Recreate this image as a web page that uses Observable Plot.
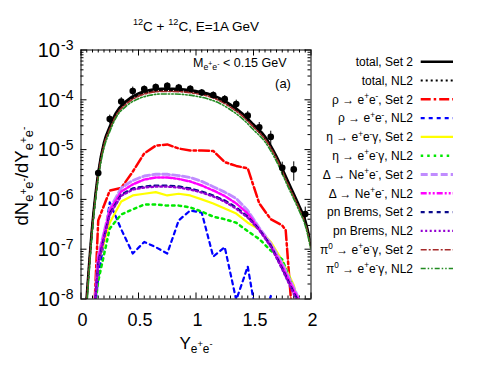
<!DOCTYPE html>
<html><head><meta charset="utf-8">
<script src="https://cdn.jsdelivr.net/npm/d3@7"></script>
<script src="https://cdn.jsdelivr.net/npm/@observablehq/plot@0.6"></script>
<style>body{margin:0;background:#fff}</style>
</head><body><div id="chart"></div>
<script>
// ---- data ----
const dataY   = [0.15,0.25,0.35,0.45,0.55,0.65,0.75,0.85,0.95,1.05,1.15,1.25,1.35,1.45,1.55,1.65,1.75,1.85,1.95];
const dataV   = [3.4e-6,4.1e-5,9.2e-5,1.5e-4,1.65e-4,1.8e-4,1.9e-4,1.77e-4,1.66e-4,1.4e-4,1.25e-4,1.03e-4,8.2e-5,4.8e-5,2.8e-5,1.8e-5,4.3e-6,4.0e-6,5.1e-7];
const dataErr = [0.15,0.2,0.2,0.2,0.15,0.15,0.15,0.15,0.15,0.15,0.15,0.18,0.2,0.22,0.25,0.3,0.3,0.42,0.37]; // relative

const totalSet2 = [[0.048,1e-8],[0.1,3.4e-7],[0.15,3.5e-6],[0.2,1.4e-5],[0.25,2.9e-5],[0.3,5.3e-5],[0.4,9.7e-5],[0.5,1.34e-4],[0.6,1.57e-4],[0.7,1.66e-4],[0.8,1.66e-4],[0.9,1.61e-4],[1.0,1.5e-4],[1.1,1.34e-4],[1.2,1.09e-4],[1.3,8.0e-5],[1.4,5.4e-5],[1.5,3.2e-5],[1.6,1.83e-5],[1.7,7.3e-6],[1.8,2.3e-6],[1.9,7.2e-7],[1.95,3.8e-7],[2.0,1.2e-7]];
const totalNL2  = [[0.05,1e-8],[0.1,3.0e-7],[0.15,3.1e-6],[0.2,1.28e-5],[0.25,2.65e-5],[0.3,4.8e-5],[0.4,8.9e-5],[0.5,1.23e-4],[0.6,1.44e-4],[0.7,1.53e-4],[0.8,1.53e-4],[0.9,1.49e-4],[1.0,1.39e-4],[1.1,1.24e-4],[1.2,1.01e-4],[1.3,7.4e-5],[1.4,5.0e-5],[1.5,2.95e-5],[1.6,1.68e-5],[1.7,6.9e-6],[1.8,2.1e-6],[1.9,6.6e-7],[1.95,3.5e-7],[2.0,1.1e-7]];
const rhoSet2   = [[0.12,1e-8],[0.15,3.8e-7],[0.25,1.5e-6],[0.35,1.7e-6],[0.45,3.6e-6],[0.55,8.4e-6],[0.65,1.2e-5],[0.75,1.27e-5],[0.85,1.05e-5],[0.95,9.6e-6],[1.05,9.6e-6],[1.15,9.4e-6],[1.25,5.6e-6],[1.35,4.7e-6],[1.45,4.2e-6],[1.55,8.3e-7],[1.65,4.0e-7],[1.75,3.0e-7],[1.78,2.4e-7],[1.825,1e-8]];
const rhoNL2    = [[0.13,1e-8],[0.15,2.6e-8],[0.25,8.7e-7],[0.35,2.5e-7],[0.45,8.2e-8],[0.55,1.4e-7],[0.65,1.1e-7],[0.75,8.2e-8],[0.85,3.8e-7],[0.95,6.0e-7],[1.05,5.4e-7],[1.15,7.1e-8],[1.25,1.1e-7],[1.35,9.5e-9],[1.45,4.5e-8],[1.55,2e-9],[1.65,1.15e-8],[1.75,1e-9]];
const etaSet2   = [[0.125,1e-8],[0.15,5.4e-8],[0.25,3.4e-7],[0.35,9.1e-7],[0.45,1.2e-6],[0.55,1.3e-6],[0.65,1.4e-6],[0.75,1.2e-6],[0.85,1.3e-6],[0.95,1.2e-6],[1.05,1.0e-6],[1.15,8.3e-7],[1.25,6.6e-7],[1.35,5.2e-7],[1.45,3.4e-7],[1.55,2.5e-7],[1.65,1.4e-7],[1.75,5.9e-8],[1.85,1.9e-8],[1.88,1e-8]];
const etaNL2    = [[0.13,1e-8],[0.15,2.3e-8],[0.25,2.6e-7],[0.35,5.0e-7],[0.45,6.3e-7],[0.55,7.9e-7],[0.65,7.9e-7],[0.75,7.5e-7],[0.85,7.5e-7],[0.95,6.9e-7],[1.05,5.7e-7],[1.15,4.5e-7],[1.25,4.0e-7],[1.35,3.4e-7],[1.45,2.3e-7],[1.55,1.6e-7],[1.65,9.4e-8],[1.75,6.2e-8],[1.85,1.6e-8],[1.87,1e-8]];
const deltaSet2 = [[0.125,1e-8],[0.15,7.5e-8],[0.25,6.5e-7],[0.35,1.7e-6],[0.45,2.4e-6],[0.55,2.95e-6],[0.65,3.2e-6],[0.75,3.2e-6],[0.85,3.0e-6],[0.95,2.75e-6],[1.05,2.3e-6],[1.15,1.8e-6],[1.25,1.4e-6],[1.35,1.04e-6],[1.45,6.0e-7],[1.55,2.7e-7],[1.65,1.3e-7],[1.75,5.2e-8],[1.85,1.7e-8],[1.895,1e-8]];
const deltaNL2  = [[0.125,1e-8],[0.15,6.5e-8],[0.25,6.0e-7],[0.35,1.44e-6],[0.45,2.0e-6],[0.55,2.5e-6],[0.65,2.75e-6],[0.75,2.75e-6],[0.85,2.57e-6],[0.95,2.29e-6],[1.05,1.9e-6],[1.15,1.51e-6],[1.25,1.17e-6],[1.35,8.3e-7],[1.45,5.2e-7],[1.55,2.5e-7],[1.65,1.19e-7],[1.75,4.5e-8],[1.85,1.5e-8],[1.89,1e-8]];
const pnSet2    = [[0.125,1e-8],[0.15,5.4e-8],[0.25,5.2e-7],[0.35,1.25e-6],[0.45,1.66e-6],[0.55,1.82e-6],[0.65,1.9e-6],[0.75,1.9e-6],[0.85,1.82e-6],[0.95,1.66e-6],[1.05,1.44e-6],[1.15,1.2e-6],[1.25,9.5e-7],[1.35,6.9e-7],[1.45,4.5e-7],[1.55,2.5e-7],[1.65,1.19e-7],[1.75,4.1e-8],[1.85,1.35e-8],[1.88,1e-8]];
const pnNL2     = [[0.125,1e-8],[0.15,5.1e-8],[0.25,4.9e-7],[0.35,1.18e-6],[0.45,1.57e-6],[0.55,1.73e-6],[0.65,1.8e-6],[0.75,1.8e-6],[0.85,1.73e-6],[0.95,1.57e-6],[1.05,1.37e-6],[1.15,1.14e-6],[1.25,9.0e-7],[1.35,6.5e-7],[1.45,4.3e-7],[1.55,2.4e-7],[1.65,1.12e-7],[1.75,3.9e-8],[1.85,1.25e-8],[1.87,1e-8]];
const pi0Set2   = [[0.05,1e-8],[0.1,2.9e-7],[0.15,3.0e-6],[0.2,1.24e-5],[0.25,2.55e-5],[0.3,4.6e-5],[0.4,8.5e-5],[0.5,1.18e-4],[0.6,1.39e-4],[0.7,1.47e-4],[0.8,1.47e-4],[0.9,1.43e-4],[1.0,1.33e-4],[1.1,1.19e-4],[1.2,9.7e-5],[1.3,7.1e-5],[1.4,4.8e-5],[1.5,2.85e-5],[1.6,1.63e-5],[1.7,6.6e-6],[1.8,2.0e-6],[1.9,6.3e-7],[1.95,3.3e-7],[2.0,1.05e-7]];
const pi0NL2    = [[0.055,1e-8],[0.1,2.5e-7],[0.15,2.6e-6],[0.2,1.08e-5],[0.25,2.3e-5],[0.3,4.2e-5],[0.4,7.7e-5],[0.5,1.05e-4],[0.6,1.23e-4],[0.7,1.31e-4],[0.8,1.31e-4],[0.9,1.27e-4],[1.0,1.18e-4],[1.1,1.05e-4],[1.2,8.6e-5],[1.3,6.3e-5],[1.4,4.25e-5],[1.5,2.5e-5],[1.6,1.43e-5],[1.7,5.8e-6],[1.8,1.8e-6],[1.9,5.7e-7],[1.95,3.0e-7],[2.0,9.5e-8]];

const xTickLabels = ["0","0.5","1","1.5","2"];
const xMajor = [0, 0.5, 1, 1.5, 2];
const yExponents = [-3,-4,-5,-6,-7,-8];

// ---- series styling ----
const series = [
  {data: totalSet2, color: "#000000", width: 2.5, dash: null,           curve: "monotone-x", label: [["total, Set 2"]]},
  {data: totalNL2,  color: "#000000", width: 2.2, dash: "2,3",          curve: "monotone-x", label: [["total, NL2"]]},
  {data: rhoSet2,   color: "#ff0000", width: 2.5, dash: "10,3,2.5,3",   curve: "linear", label: [["ρ → e"],["+","sup"],["e"],["-","sup"],[", Set 2"]]},
  {data: rhoNL2,    color: "#0000ff", width: 2.2, dash: "4,4",          curve: "linear", label: [["ρ → e"],["+","sup"],["e"],["-","sup"],[", NL2"]]},
  {data: etaSet2,   color: "#ffff00", width: 2.2, dash: null,           curve: "linear", label: [["η → e"],["+","sup"],["e"],["-","sup"],["γ, Set 2"]]},
  {data: etaNL2,    color: "#00e800", width: 2.5, dash: "2.5,4",        curve: "linear", label: [["η → e"],["+","sup"],["e"],["-","sup"],["γ, NL2"]]},
  {data: deltaSet2, color: "#c08cff", width: 2.8, dash: "7,3",          curve: "linear", label: [["Δ → Ne"],["+","sup"],["e"],["-","sup"],[", Set 2"]]},
  {data: deltaNL2,  color: "#ff00ff", width: 2.5, dash: "6,2,2,2,2,2",  curve: "linear", label: [["Δ → Ne"],["+","sup"],["e"],["-","sup"],[", NL2"]]},
  {data: pnSet2,    color: "#0a0a8c", width: 2.2, dash: "4,4",          curve: "linear", label: [["pn Brems, Set 2"]]},
  {data: pnNL2,     color: "#9400d3", width: 2.2, dash: "2,2.5",        curve: "linear", label: [["pn Brems, NL2"]]},
  {data: pi0Set2,   color: "#a52a2a", width: 1.6, dash: "6,2,2,2",      curve: "monotone-x", label: [["π"],["0","sup"],[" → e"],["+","sup"],["e"],["-","sup"],["γ, Set 2"]]},
  {data: pi0NL2,    color: "#228b22", width: 1.6, dash: "5,2,1.5,2,1.5,2", curve: "monotone-x", label: [["π"],["0","sup"],[" → e"],["+","sup"],["e"],["-","sup"],["γ, NL2"]]}
];

const points = dataY.map((Y, i) => ({Y, v: dataV[i], e: dataErr[i]}));

// tick arrays
const xMinor = d3.range(0, 2.0001, 0.05).filter(v => Math.abs(v*2 - Math.round(v*2)) > 1e-6);
const yMajor = yExponents.map(k => Math.pow(10, k));
const yMinor = [];
for (const k of yExponents.slice(1)) for (let m = 2; m <= 9; m++) yMinor.push(m * Math.pow(10, k));

const mL = 80.5, mR = 169.5, mT = 49.5, mB = 79.5;
const W = 480, H = 378;
const plotW = W - mL - mR, plotH = H - mT - mB;

const marks = [
  Plot.ruleX(xMajor, {x: d => d, insetTop: plotH - 6, stroke: "black"}),
  Plot.ruleX(xMajor, {x: d => d, insetBottom: plotH - 6, stroke: "black"}),
  Plot.ruleX(xMinor, {x: d => d, insetTop: plotH - 3, stroke: "black"}),
  Plot.ruleX(xMinor, {x: d => d, insetBottom: plotH - 3, stroke: "black"}),
  Plot.ruleY(yMajor, {y: d => d, insetRight: plotW - 6, stroke: "black"}),
  Plot.ruleY(yMajor, {y: d => d, insetLeft: plotW - 6, stroke: "black"}),
  Plot.ruleY(yMinor, {y: d => d, insetRight: plotW - 3, stroke: "black"}),
  Plot.ruleY(yMinor, {y: d => d, insetLeft: plotW - 3, stroke: "black"}),
  ...series.map(s => Plot.line(s.data, {
    x: d => d[0], y: d => d[1], stroke: s.color, strokeWidth: s.width,
    strokeDasharray: s.dash, curve: s.curve, clip: true
  })),
  Plot.ruleX(points, {x: "Y", y1: d => d.v * (1 - d.e), y2: d => d.v * (1 + d.e), stroke: "black", strokeWidth: 1, clip: true}),
  Plot.dot(points, {x: "Y", y: "v", r: 3.3, fill: "black", stroke: "none"}),
  Plot.frame({stroke: "black", strokeWidth: 1})
];

const chart = Plot.plot({
  width: W, height: H,
  marginLeft: mL, marginRight: mR, marginTop: mT, marginBottom: mB,
  style: {background: "white", fontFamily: "Liberation Sans, Arial, sans-serif"},
  x: {domain: [0, 2], axis: null},
  y: {type: "log", domain: [1e-8, 1e-3], axis: null},
  marks
});
document.getElementById("chart").appendChild(chart);

// ---- texts ----
const svg = d3.select(chart);
const xS = chart.scale("x"), yS = chart.scale("y");
const FONT = "Liberation Sans, Arial, sans-serif";

function rich(x, y, segs, size, anchor = "start", rotate = 0) {
  const g = svg.append("g").attr("transform", `translate(${x},${y}) rotate(${rotate})`);
  const t = g.append("text").attr("font-family", FONT).attr("font-size", size)
    .attr("text-anchor", anchor).attr("fill", "black");
  let cur = 0;
  for (const [txt, kind] of segs) {
    let off = 0, fs = size;
    if (kind === "sup") { off = -0.38 * size; fs = 0.68 * size; }
    else if (kind === "sub") { off = 0.28 * size; fs = 0.7 * size; }
    else if (kind === "subsup") { off = -0.08 * size; fs = 0.55 * size; }
    t.append("tspan").attr("dy", off - cur).attr("font-size", fs).text(txt);
    cur = off;
  }
  return t;
}

// y tick labels
for (const k of yExponents) {
  const py = yS.apply(Math.pow(10, k));
  svg.append("text").attr("x", 60).attr("y", py + 7.2).attr("text-anchor", "end")
    .attr("font-family", FONT).attr("font-size", 20).text("10");
  svg.append("text").attr("x", 61).attr("y", py + 0.5).attr("text-anchor", "start")
    .attr("font-family", FONT).attr("font-size", 14).text(String(k));
}
// x tick labels
xMajor.forEach((v, i) => {
  svg.append("text").attr("x", xS.apply(v) + 2).attr("y", 325.5).attr("text-anchor", "middle")
    .attr("font-family", FONT).attr("font-size", 18).text(xTickLabels[i]);
});

// titles
rich(196, 30.5, [["12","sup"],["C + "],["12","sup"],["C, E=1A GeV"]], 13.5, "middle");
rich(193, 66.5, [["M"],["e","sub"],["+","subsup"],["e","sub"],["-","subsup"],[" < 0.15 GeV"]], 12.5, "start");
rich(283, 88, [["(a)"]], 13, "middle");
rich(196, 348.5, [["Y"],["e","sub"],["+","subsup"],["e","sub"],["-","subsup"]], 17, "middle");
rich(28, 176, [["dN"],["e","sub"],["+","subsup"],["e","sub"],["-","subsup"],["/dY"],["e","sub"],["+","subsup"],["e","sub"],["-","subsup"]], 18.5, "middle", -90);

// legend
series.forEach((s, i) => {
  const cy = 61.7 + 18.8 * i;
  rich(413, cy + 4.2, s.label, 12, "end");
  svg.append("line").attr("x1", 420.7).attr("x2", 453).attr("y1", cy).attr("y2", cy)
    .attr("stroke", s.color).attr("stroke-width", s.width)
    .attr("stroke-dasharray", s.dash);
});
</script>
</body></html>
